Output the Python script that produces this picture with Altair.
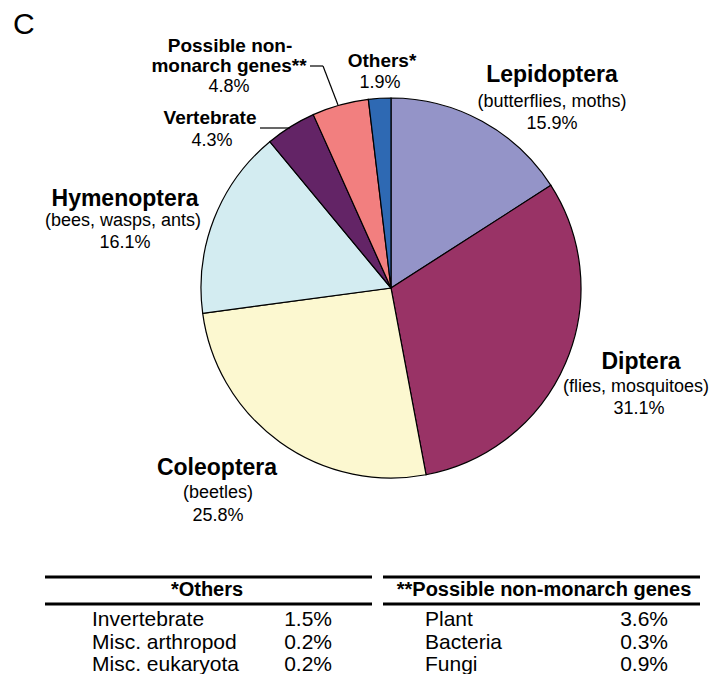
import altair as alt
import pandas as pd

# ---------------- data ----------------
groups = ["Lepidoptera", "Diptera", "Coleoptera", "Hymenoptera", "Vertebrate",
          "Possible non-monarch genes", "Others"]
shares = [15.9, 31.1, 25.8, 16.1, 4.3, 4.8, 1.9]
colors = ["#9494C8", "#993366", "#FCF8D0", "#D3ECF1", "#632466", "#F27F7F", "#2E69B3"]

others_items = ["Invertebrate", "Misc. arthropod", "Misc. eukaryota"]
others_values = ["1.5%", "0.2%", "0.2%"]
pnm_items = ["Plant", "Bacteria", "Fungi"]
pnm_values = ["3.6%", "0.3%", "0.9%"]

panel_letter = "C"
others_title = "*Others"
pnm_title = "**Possible non-monarch genes"

FONT = "Liberation Sans, Arial, sans-serif"
OFF = 8  # page margin

pie_df = pd.DataFrame({"group": groups, "share": shares, "idx": list(range(len(groups)))})

CX, CY, R = 391 - OFF, 288 - OFF, 190

pie = alt.Chart(pie_df).mark_arc(outerRadius=R, stroke="black", strokeWidth=1.2).encode(
    theta=alt.Theta("share:Q", stack=True),
    color=alt.Color("group:N", scale=alt.Scale(domain=groups, range=colors), legend=None),
    order=alt.Order("idx:Q"),
    x=alt.value(CX),
    y=alt.value(CY),
)

dummy = pd.DataFrame({"a": [0]})


def label(text, x, y, size, bold=False, align="center"):
    return alt.Chart(pd.DataFrame({"t": [text]})).mark_text(
        align=align, baseline="middle", fontSize=size,
        fontWeight="bold" if bold else "normal", font=FONT, color="black"
    ).encode(text="t:N", x=alt.value(x - OFF), y=alt.value(y - OFF))


def rule(x1, x2, y1, y2, w=1.2):
    return alt.Chart(dummy).mark_rule(color="black", strokeWidth=w).encode(
        x=alt.value(x1 - OFF), x2=alt.value(x2 - OFF),
        y=alt.value(y1 - OFF), y2=alt.value(y2 - OFF))


BIG, SMALL, REG = 23, 19, 18

texts = [
    label(panel_letter, 13, 25, 30, align="left"),
    # Lepidoptera
    label("Lepidoptera", 552, 75, BIG, True),
    label("(butterflies, moths)", 552, 102, REG),
    label(f"{shares[0]}%", 552, 124, REG),
    # Diptera
    label("Diptera", 641, 362, BIG, True),
    label("(flies, mosquitoes)", 636, 387, REG),
    label(f"{shares[1]}%", 639, 409, REG),
    # Coleoptera
    label("Coleoptera", 217, 468, BIG, True),
    label("(beetles)", 218, 493, REG),
    label(f"{shares[2]}%", 218, 516, REG),
    # Hymenoptera
    label("Hymenoptera", 125, 199, BIG, True),
    label("(bees, wasps, ants)", 123, 221, REG),
    label(f"{shares[3]}%", 125, 243, REG),
    # Vertebrate
    label("Vertebrate", 210, 118, SMALL, True),
    label(f"{shares[4]}%", 212, 141, REG),
    # Possible non-monarch genes
    label("Possible non-", 230, 46, SMALL, True),
    label("monarch genes**", 229, 66, SMALL, True),
    label(f"{shares[5]}%", 229, 87, REG),
    # Others
    label("Others*", 382, 61, SMALL, True),
    label(f"{shares[6]}%", 380, 83, REG),
]

leaders = [
    rule(260, 290, 128, 128),
    rule(310, 323, 66, 66),
    rule(323, 338, 66, 105),
]

# ---------------- tables ----------------
TW = 3
table_rules = [
    rule(45, 372, 577, 577, TW), rule(45, 372, 604, 604, TW),
    rule(383, 700, 577, 577, TW), rule(383, 700, 604, 604, TW),
]
table_titles = [
    label(others_title, 207, 590, 20, True),
    label(pnm_title, 544, 590, 20, True),
]


def table_col(items, x, align):
    df = pd.DataFrame({"t": items, "row": list(range(len(items)))})
    return alt.Chart(df).transform_calculate(
        ypix=f"{620 - OFF} + datum.row * 22.7"
    ).mark_text(align=align, baseline="middle", fontSize=21, font=FONT, color="black").encode(
        text="t:N", x=alt.value(x - OFF), y=alt.Y("ypix:Q", scale=None))


table_cols = [
    table_col(others_items, 92, "left"),
    table_col(others_values, 332, "right"),
    table_col(pnm_items, 425, "left"),
    table_col(pnm_values, 668, "right"),
]

chart = alt.layer(pie, *leaders, *texts, *table_rules, *table_titles, *table_cols).properties(
    width=703, height=666, padding=0,
    autosize=alt.AutoSizeParams(type="none"),
).configure_view(stroke=None)

chart.save("out.html", embed_options={"renderer": "svg", "actions": False})
